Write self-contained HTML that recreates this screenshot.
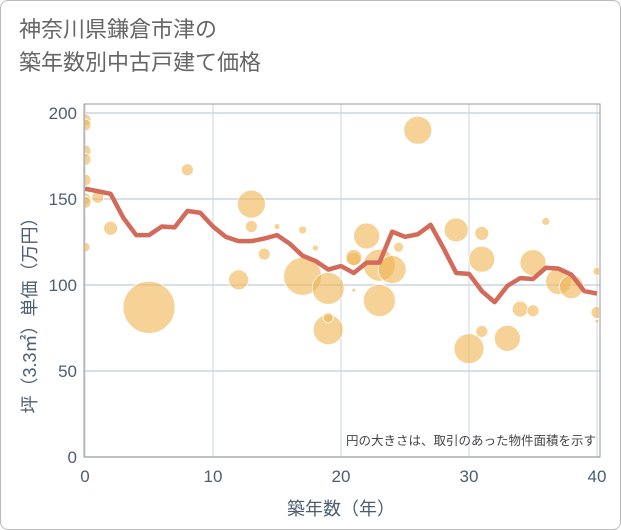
<!DOCTYPE html>
<html><head><meta charset="utf-8"><style>
body{margin:0;background:#fff;}
#wrap{position:relative;width:619px;height:528px;border:1px solid #bbb;border-radius:8px;overflow:hidden;background:#fff;font-family:"Liberation Sans","Noto Sans CJK JP",sans-serif;}
#title{position:absolute;left:18px;top:12px;font-size:22px;line-height:33px;color:#666;}
svg{position:absolute;left:0;top:0;}
</style></head><body>
<div id="wrap">
<div id="title">神奈川県鎌倉市津の<br>築年数別中古戸建て価格</div>
<svg id="chart" width="621" height="530"></svg>
</div>
<script>
const lineYears=[0,1,2,3,4,5,6,7,8,9,10,11,12,13,14,15,16,17,18,19,20,21,22,23,24,25,26,27,28,29,30,31,32,33,34,35,36,37,38,39,40];
const lineValues=[156,154.5,153,139,129,129,134,133.5,143,142,134,128,125.5,125.5,127,129,124,117,114,109,111,107,113,113,131,128,129.5,135,121.5,107,106.5,96.5,90,99.5,104,103.5,110,109.5,106,96.5,95];
const bubbleX=[0,0,0,0,0,0,0,0,1,2,5,8,12,13,13,14,15,17,17,18,19,19,19,21,21,21,22,23,23,24,24.5,26,29,30,31,31,31,33,34,35,35,36,37,38,40,40,40];
const bubbleY=[196,193,178,173,161,150,148,122,151,133,87,167,103,147,134,118,134,132,105,121.5,98,74,81,115,97,116,128.5,111.5,91,109,122,190,132,63,130,115,73,69,86,113,85,137,102,99,108,84,79];
const bubbleR=[6,6,6,6,6,6,6,5,6,7,26,6,10,14,6,6,3,4,19,3,16,15,5,7,2,8,13,16,16,14,5,14,12,15,7,13,6,13,8,13,6,4,13,12,4,6,2];
const xTicks=[0,10,20,30,40];
const yTicks=[0,50,100,150,200];
const NS="http://www.w3.org/2000/svg";
const svg=document.getElementById('chart');
const X0=84,X1=596,Y0=456,Y1=112;
const xs=v=>X0+(v-0)/40*(X1-X0);
const ys=v=>Y0-(v/200)*(Y0-Y1);
function mk(t,a){const e=document.createElementNS(NS,t);for(const k in a)e.setAttribute(k,a[k]);svg.appendChild(e);return e;}
const clip=document.createElementNS(NS,'clipPath');clip.setAttribute('id','pc');
const cr=document.createElementNS(NS,'rect');cr.setAttribute('x',X0);cr.setAttribute('y',103);cr.setAttribute('width',X1-X0+2);cr.setAttribute('height',Y0-103);
clip.appendChild(cr);svg.appendChild(clip);
xTicks.forEach(t=>{const l=mk('line',{x1:xs(t),x2:xs(t),y1:103,y2:Y0,stroke:'#c9d6e2','stroke-width':1});


const tx=mk('text',{x:xs(t),y:Y0+25,'text-anchor':'middle','font-size':17,fill:'#4d5e70'});tx.textContent=t;

});
yTicks.forEach(t=>{const l=mk('line',{x1:X0,x2:X1+3,y1:ys(t),y2:ys(t),stroke:'#c9d6e2','stroke-width':1.5});


const tx=mk('text',{x:X0-8,y:ys(t)+6,'text-anchor':'end','font-size':17,fill:'#4d5e70'});tx.textContent=t;

});
const fr=mk('rect',{x:X0-1,y:103,width:X1-X0+4,height:Y0-103,fill:'none',stroke:'#999','stroke-width':1});


const g=mk('g',{'clip-path':'url(#pc)'});
bubbleX.forEach((x,i)=>{const c=document.createElementNS(NS,'circle');
c.setAttribute('cx',xs(x));c.setAttribute('cy',ys(bubbleY[i]));c.setAttribute('r',bubbleR[i]);
c.setAttribute('fill','rgba(240,180,80,0.6)');c.setAttribute('stroke','#fff');c.setAttribute('stroke-width','0.8');


g.appendChild(c);});
const pl=document.createElementNS(NS,'polyline');
pl.setAttribute('points',lineYears.map((x,i)=>xs(x)+','+ys(lineValues[i])).join(' '));
pl.setAttribute('fill','none');pl.setAttribute('stroke','#d46b5a');pl.setAttribute('stroke-width','4.5');pl.setAttribute('stroke-linejoin','round');


g.appendChild(pl);
const note=mk('text',{x:595,y:444,'text-anchor':'end','font-size':12.5,fill:'#444'});note.textContent='円の大きさは、取引のあった物件面積を示す';


const xt=mk('text',{x:340,y:514,'text-anchor':'middle','font-size':18,fill:'#4d5e70'});xt.textContent='築年数（年）';


const yt=mk('text',{x:0,y:0,'text-anchor':'middle','font-size':18,fill:'#4d5e70',transform:'translate(35,310) rotate(-90)'});yt.textContent='坪（3.3㎡）単価（万円）';


</script>
</body></html>
